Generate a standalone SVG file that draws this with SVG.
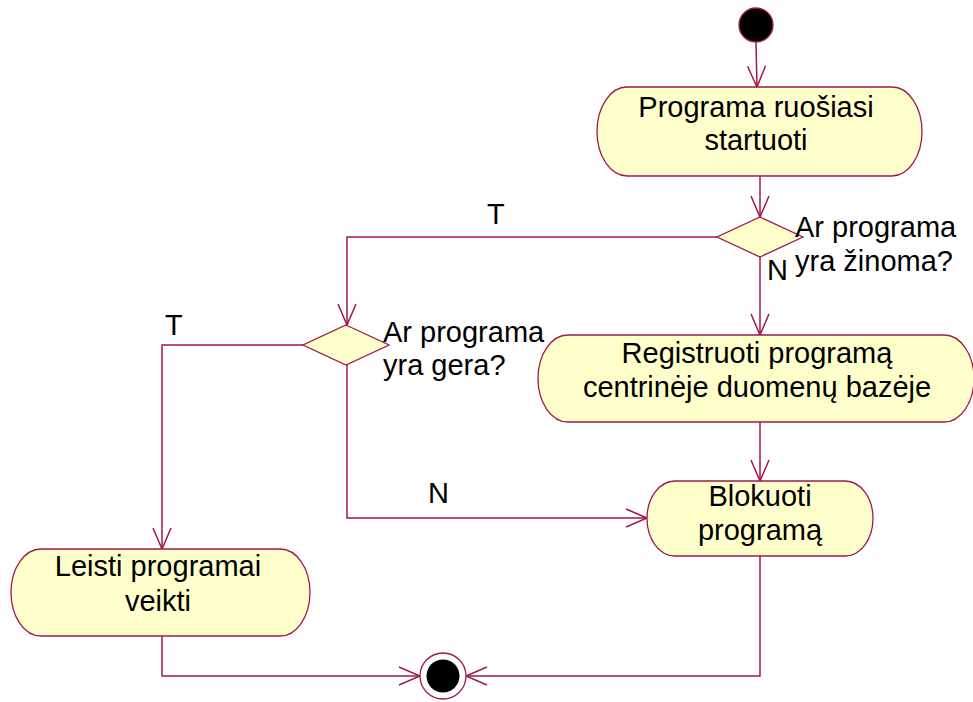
<svg xmlns="http://www.w3.org/2000/svg" width="973" height="702" viewBox="0 0 973 702">
  <style>
    .act { fill: #ffffcc; stroke: #a0194a; stroke-width: 1.3; }
    .dec { fill: #ffffcc; stroke: #a0194a; stroke-width: 1.3; }
    .flow { fill: none; stroke: #a0194a; stroke-width: 1.5; }
    .lbl { font-family: "Liberation Sans", Arial, sans-serif; font-size: 29px; fill: #000; }
    .mid { text-anchor: middle; }
  </style>
  <defs>
    <marker id="open" markerUnits="userSpaceOnUse" markerWidth="24" markerHeight="24" viewBox="-22 -12 24 24" refX="0" refY="0" orient="auto">
      <path d="M -21 -9 L 0 0 L -21 9" fill="none" stroke="#a0194a" stroke-width="1.5"/>
    </marker>
  </defs>
  <rect width="973" height="702" fill="#ffffff"/>

  <g id="connectors">
    <line class="flow" x1="756" y1="42" x2="757" y2="87" marker-end="url(#open)"/>
    <line class="flow" x1="760" y1="176" x2="760" y2="217" marker-end="url(#open)"/>
    <line class="flow" x1="760" y1="257" x2="760" y2="335" marker-end="url(#open)"/>
    <polyline class="flow" points="717,237 347,237 347,325" marker-end="url(#open)"/>
    <line class="flow" x1="760" y1="422" x2="760" y2="481" marker-end="url(#open)"/>
    <polyline class="flow" points="303,345 162,345 162,549" marker-end="url(#open)"/>
    <polyline class="flow" points="347,365 347,518 647,518" marker-end="url(#open)"/>
    <polyline class="flow" points="162,636 162,676 420,676" marker-end="url(#open)"/>
    <polyline class="flow" points="760,556 760,676 466,676" marker-end="url(#open)"/>
    <text class="lbl" x="487" y="224">T</text>
    <text class="lbl" x="767" y="280">N</text>
    <text class="lbl" x="165" y="335">T</text>
    <text class="lbl" x="428" y="503">N</text>
  </g>

  <g id="start">
    <circle cx="756" cy="25" r="17" fill="#000" stroke="#a0194a" stroke-width="1.3"/>
  </g>

  <g id="node-start-program">
    <rect class="act" x="597" y="87" width="325" height="89" rx="30" ry="44.5"/>
    <text class="lbl mid" x="756" y="117">Programa ruošiasi</text>
    <text class="lbl mid" x="756" y="150">startuoti</text>
  </g>

  <g id="decision-known">
    <polygon class="dec" points="760,217 803,237 760,257 717,237"/>
    <text class="lbl" x="795" y="237">Ar programa</text>
    <text class="lbl" x="795" y="271">yra žinoma?</text>
  </g>

  <g id="node-register">
    <rect class="act" x="538" y="335" width="436" height="87" rx="30" ry="43.5"/>
    <text class="lbl mid" x="757" y="363">Registruoti programą</text>
    <text class="lbl mid" x="757" y="397">centrinėje duomenų bazėje</text>
  </g>

  <g id="decision-good">
    <polygon class="dec" points="346,325 389,345 346,365 303,345"/>
    <text class="lbl" x="383" y="342">Ar programa</text>
    <text class="lbl" x="383" y="375">yra gera?</text>
  </g>

  <g id="node-block">
    <rect class="act" x="647" y="481" width="226" height="75" rx="28" ry="37.5"/>
    <text class="lbl mid" x="760" y="506">Blokuoti</text>
    <text class="lbl mid" x="760" y="540">programą</text>
  </g>

  <g id="node-allow">
    <rect class="act" x="11" y="549" width="299" height="87" rx="30" ry="43.5"/>
    <text class="lbl mid" x="158" y="576">Leisti programai</text>
    <text class="lbl mid" x="158" y="611">veikti</text>
  </g>

  <g id="end">
    <circle cx="443" cy="676" r="23" fill="#ffffff" stroke="#a0194a" stroke-width="1.3"/>
    <circle cx="443" cy="676" r="16.5" fill="#000"/>
  </g>
</svg>
